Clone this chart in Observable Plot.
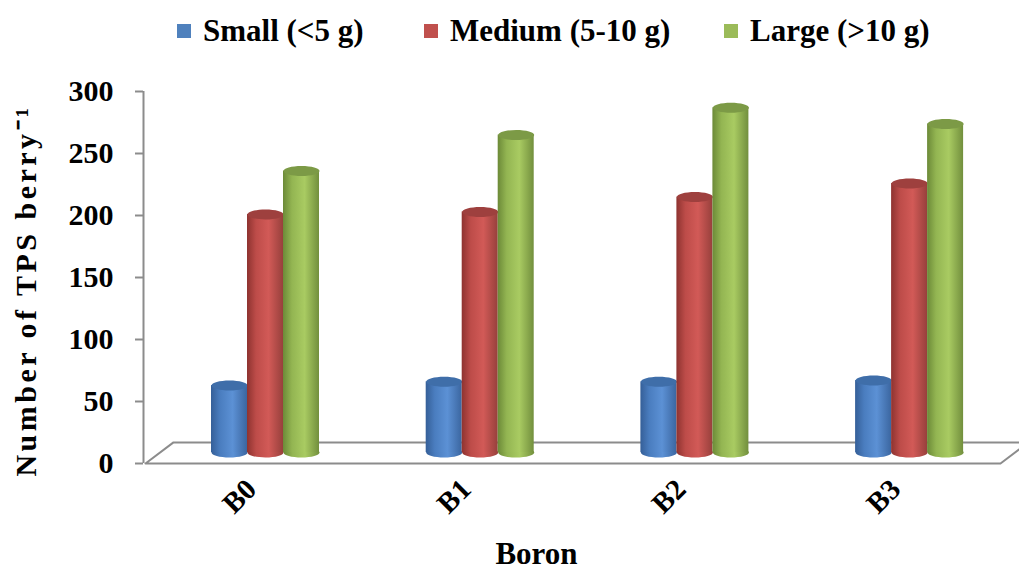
<!DOCTYPE html>
<html><head><meta charset="utf-8">
<script src="https://cdn.jsdelivr.net/npm/d3@7"></script>
<script src="https://cdn.jsdelivr.net/npm/@observablehq/plot@0.6"></script>
<style>
html,body{margin:0;padding:0;background:#fff;}
body{width:1019px;height:576px;overflow:hidden;font-family:"Liberation Serif","Times New Roman",serif;}
#legend{position:relative;height:58px;}
.item{position:absolute;top:10px;display:flex;align-items:center;font-weight:bold;font-size:31px;line-height:42px;color:#000;white-space:nowrap;}
.sw{width:14px;height:14px;margin-right:12px;}
#chart svg{display:block;}
</style></head><body>
<div id="legend"></div><div id="chart"></div>
<script>
// ---- data ----
const groups = ["B0", "B1", "B2", "B3"];
const seriesNames = ["Small (<5 g)", "Medium (5-10 g)", "Large (>10 g)"];
const small  = [54, 57, 57, 58];
const medium = [192, 194, 206, 217];
const large  = [227, 256, 278, 265];
const yTicks = [0, 50, 100, 150, 200, 250, 300];
const yTitle = "Number of TPS berry⁻¹";
const xTitle = "Boron";
// ---- styles ----
const swatch = ["#4f81bd", "#c0504d", "#9bbb59"];
const gradStops = [
  ["#355f98", "#4a7dbf", "#5c91d5", "#3b66a0"],
  ["#8e3330", "#bd4c49", "#d25a57", "#97403c"],
  ["#6c8a38", "#93b552", "#a9cb62", "#728f3d"]
];
const capColor = ["#3f6ea9", "#9e403e", "#7c9a46"];
const legendLeft = [177, 424, 724];

const values = [small, medium, large];
const rows = [];
values.forEach((arr, si) => arr.forEach((v, gi) => rows.push({gi, si, group: groups[gi], series: seriesNames[si], value: v})));

// legend
const leg = document.getElementById("legend");
seriesNames.forEach((s, i) => {
  const it = document.createElement("div");
  it.className = "item"; it.style.left = legendLeft[i] + "px";
  it.innerHTML = `<span class="sw" style="background:${swatch[i]}"></span><span></span>`;
  it.lastChild.textContent = s;
  leg.appendChild(it);
});

// layout constants (pixels -> x units)
const pxPerGroup = 214.7;
const barW = 36 / pxPerGroup;
const xmin = (143 - 265) / pxPerGroup, xmax = (1019 - 265) / pxPerGroup;
const depthX = 28 / pxPerGroup, depthY = 17;
const lift = -11; // 3D depth shift of bars (px)

const ellipse = {
  draw(ctx, size) {
    const rx = Math.sqrt(size / Math.PI), ry = 5, k = 0.5523;
    ctx.moveTo(rx, 0);
    ctx.bezierCurveTo(rx, ry * k, rx * k, ry, 0, ry);
    ctx.bezierCurveTo(-rx * k, ry, -rx, ry * k, -rx, 0);
    ctx.bezierCurveTo(-rx, -ry * k, -rx * k, -ry, 0, -ry);
    ctx.bezierCurveTo(rx * k, -ry, rx, -ry * k, rx, 0);
    ctx.closePath();
  }
};

const floorPts = [
  {x: (145 - 265) / pxPerGroup, y: 0},
  {x: (1000 - 265) / pxPerGroup, y: 0},
  {x: (1000 - 265) / pxPerGroup + depthX, y: depthY},
  {x: (145 - 265) / pxPerGroup + depthX, y: depthY},
  {x: (145 - 265) / pxPerGroup, y: 0}
];

const xc = d => d.gi + (d.si - 1) * barW;
const marks = [
  Plot.line(floorPts, {x: "x", y: "y", stroke: "#8c8c8c", strokeWidth: 2}),
  Plot.ruleX([xmin], {y1: 0, y2: 300, stroke: "#8c8c8c", strokeWidth: 2}),
  Plot.axisY(yTicks, {tickSize: 8, tickPadding: 22, stroke: "#8c8c8c", strokeWidth: 2, fontSize: 30, fontWeight: "bold", fill: "#000"}),
];
for (let si = 0; si < 3; si++) {
  const data = rows.filter(d => d.si === si);
  marks.push(
    Plot.dot(data, {x: xc, y: () => 0, r: 18, symbol: ellipse, fill: `url(#g${si})`, stroke: "none", dy: lift}),
    Plot.rectY(data, {x1: d => xc(d) - barW / 2, x2: d => xc(d) + barW / 2, y1: 0, y2: "value", fill: `url(#g${si})`, dy: lift}),
    Plot.dot(data, {x: xc, y: "value", r: 18, symbol: ellipse, fill: capColor[si], stroke: "none", dy: lift})
  );
}
marks.push(
  Plot.text(groups, {x: (d, i) => i, y: () => 0, text: d => d, rotate: -45, textAnchor: "end", dx: -14, dy: 21, fontSize: 29, fontWeight: "bold", fill: "#000"}),
  Plot.text([yTitle], {frameAnchor: "left", textAnchor: "middle", text: d => d, rotate: -90, dx: -117, dy: 13, fontSize: 30, fontWeight: "bold", fill: "#000"}),
  Plot.text([xTitle], {frameAnchor: "bottom", textAnchor: "middle", text: d => d, dx: -45, dy: 100, fontSize: 31, fontWeight: "bold", fill: "#000"})
);

const svg = Plot.plot({
  width: 1019, height: 518,
  marginLeft: 143, marginRight: 0, marginTop: 33, marginBottom: 113,
  x: {type: "linear", domain: [xmin, xmax], axis: null},
  y: {domain: [0, 300], axis: null},
  style: {fontFamily: "'Liberation Serif', 'Times New Roman', serif", fontWeight: "bold", color: "#000", background: "#fff"},
  marks
});
const defs = gradStops.map((st, i) =>
  `<linearGradient id="g${i}" x1="0" x2="1" y1="0" y2="0">
     <stop offset="0" stop-color="${st[0]}"/><stop offset="0.25" stop-color="${st[1]}"/>
     <stop offset="0.6" stop-color="${st[2]}"/><stop offset="1" stop-color="${st[3]}"/></linearGradient>`).join("");
svg.insertAdjacentHTML("afterbegin", `<defs>${defs}</defs>`);
svg.querySelectorAll("text").forEach(t => { if (t.textContent === yTitle) t.style.letterSpacing = "3.5px"; });
document.getElementById("chart").appendChild(svg);
</script></body></html>
